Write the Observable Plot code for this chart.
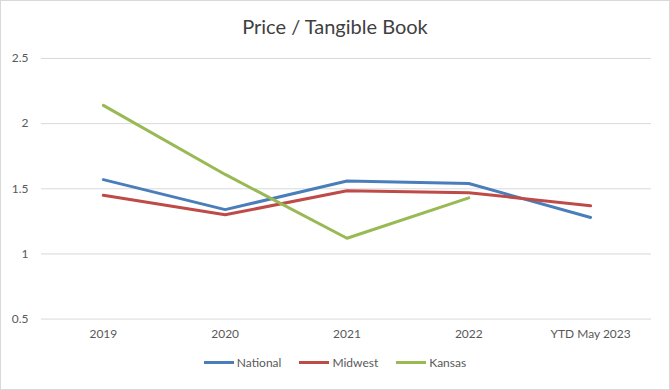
<!DOCTYPE html>
<html>
<head>
<meta charset="utf-8">
<script src="https://cdn.jsdelivr.net/npm/d3@7"></script>
<script src="https://cdn.jsdelivr.net/npm/@observablehq/plot@0.6"></script>
<style>
  body { margin: 0; background: #fff; }
  #wrap { position: relative; width: 668px; height: 388px; border: 1px solid #d9d9d9; font-family: Lato, "Open Sans", sans-serif; overflow: hidden; }
  #title { position: absolute; left: 0; top: 0; width: 668px; height: 44px; text-align: center; font-size: 20px; line-height: 50px; color: #404040; }
  #chart { position: absolute; left: -1px; top: 44px; }
  #legend { position: absolute; left: 0; top: 354px; width: 668px; display: flex; justify-content: center; gap: 18px; font-size: 12px; color: #595959; }
  .item { display: flex; align-items: center; gap: 3px; }
  .sw { width: 30px; height: 3px; }
</style>
</head>
<body>
<div id="wrap">
  <div id="title">Price / Tangible Book</div>
  <div id="chart"></div>
  <div id="legend"></div>
</div>
<script>
const categories = ["2019", "2020", "2021", "2022", "YTD May 2023"];
const series = ["National", "Midwest", "Kansas"];
const national = [1.57, 1.34, 1.56, 1.54, 1.28];
const midwest = [1.45, 1.30, 1.485, 1.47, 1.37];
const kansas = [2.14, 1.61, 1.12, 1.43, null];
const yTicks = [0.5, 1, 1.5, 2, 2.5];
const colors = ["#4A7EBB", "#BE4B48", "#98B954"];

const valuesBySeries = [national, midwest, kansas];
const data = [];
series.forEach((s, i) => {
  categories.forEach((c, j) => {
    const v = valuesBySeries[i][j];
    if (v != null) data.push({series: s, cat: c, value: v});
  });
});

const plot = Plot.plot({
  width: 670,
  height: 306,
  marginTop: 13,
  marginBottom: 32,
  marginLeft: 41,
  marginRight: 18,
  style: {fontFamily: "Lato, 'Open Sans', sans-serif", fontSize: "12px", color: "#595959", background: "transparent"},
  x: {type: "point", domain: categories, padding: 0.5, label: null},
  y: {domain: [0.5, 2.5], ticks: yTicks, label: null},
  color: {domain: series, range: colors},
  marks: [
    Plot.gridY(yTicks, {stroke: "#d9d9d9", strokeOpacity: 1, strokeWidth: 1}),
    Plot.axisY(yTicks, {tickSize: 0, tickPadding: 13, tickFormat: d => String(d), fill: "#595959", fontSize: 12}),
    Plot.axisX({tickSize: 0, tickPadding: 10, fill: "#595959", fontSize: 12}),
    Plot.line(data, {x: "cat", y: "value", z: "series", stroke: "series", strokeWidth: 3, strokeLinejoin: "round", strokeLinecap: "round"})
  ]
});
document.getElementById("chart").appendChild(plot);

const legend = document.getElementById("legend");
series.forEach((s, i) => {
  const item = document.createElement("div");
  item.className = "item";
  const sw = document.createElement("div");
  sw.className = "sw";
  sw.style.background = colors[i];
  const t = document.createElement("span");
  t.textContent = s;
  item.appendChild(sw);
  item.appendChild(t);
  legend.appendChild(item);
});
</script>
</body>
</html>
